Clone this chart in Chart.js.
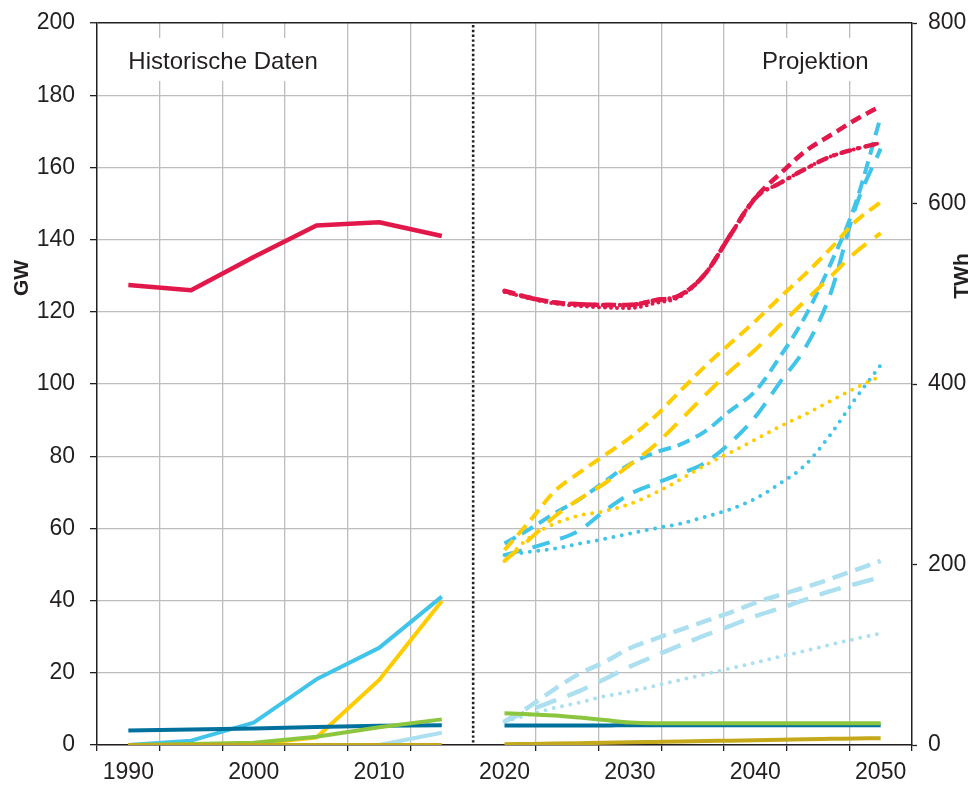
<!DOCTYPE html>
<html>
<head>
<meta charset="utf-8">
<script src="https://cdn.jsdelivr.net/npm/chart.js@4"></script>
<style>
  html, body { margin: 0; padding: 0; background: #fff; }
  #chart { display: block; }
</style>
</head>
<body>
<canvas id="chart" width="976" height="785"></canvas>
<script>
// Data (GW)
const histYears = [1990, 1995, 2000, 2005, 2010, 2015];
const projYears = [2020, 2022, 2024, 2026, 2028, 2030, 2032, 2034, 2036, 2038, 2040, 2042, 2044, 2046, 2048, 2050];

const histRed = [127.4, 126.0, 135.2, 143.9, 144.8, 141.0];
const histCyan = [0, 1.2, 6.2, 18.2, 26.9, 41.1];
const histYellow = [0, 0, 0.3, 2.1, 18.0, 39.9];
const histDarkBlue = [4.0, 4.3, 4.6, 5.0, 5.3, 5.5];
const histGreen = [0, 0.3, 0.6, 2.3, 4.9, 7.1];
const histLightBlue = [0, 0, 0, 0, 0, 3.4];
const histOlive = [0, 0, 0, 0, 0, 0];

const redDash = [125.8, 123.9, 122.6, 122.1, 121.9, 121.9, 123.2, 124.6, 130.5, 141.2, 151.5, 158.3, 164.5, 168.9, 173.2, 177.0];
const redDashDot = [125.8, 123.9, 122.6, 122.1, 121.9, 121.9, 123.2, 124.6, 130.5, 141.2, 151.5, 155.7, 159.6, 163.0, 165.1, 166.8];
const redDot = [125.5, 123.7, 122.3, 121.6, 121.2, 121.0, 122.4, 124.2, 130.5, 141.2, 151.5, 155.7, 159.6, 163.0, 165.1, 166.8];

const yellowDash = [54.0, 62.0, 70.3, 75.5, 80.3, 85.1, 91.0, 98.0, 104.9, 111.2, 117.4, 124.1, 130.5, 137.5, 145.0, 150.4];
const yellowLongDash = [51.0, 57.0, 63.3, 68.2, 72.5, 77.6, 83.1, 89.9, 96.9, 103.6, 109.5, 116.4, 123.1, 129.7, 136.5, 141.8];
const yellowDot = [51.0, 57.5, 61.3, 63.6, 64.8, 66.8, 69.8, 73.5, 77.5, 81.0, 84.6, 88.3, 91.6, 95.3, 98.9, 102.2];

const cyanDash = [55.8, 59.8, 64.2, 68.1, 73.0, 77.8, 81.0, 83.2, 86.9, 92.6, 98.0, 107.7, 118.8, 133.2, 150.0, 174.0];
const cyanLongDash = [52.6, 54.5, 56.6, 59.5, 64.9, 69.5, 72.4, 75.1, 78.2, 83.7, 90.9, 100.6, 110.1, 125.0, 149.0, 165.2];
const cyanDot = [52.6, 53.5, 54.4, 55.8, 57.1, 58.6, 60.0, 61.3, 63.2, 65.3, 68.2, 72.5, 77.6, 86.0, 96.0, 105.2];

const lightDash = [6.5, 10.7, 15.5, 19.8, 23.0, 26.8, 29.4, 31.9, 34.3, 36.7, 39.4, 41.6, 43.7, 46.0, 48.5, 51.0];
const lightLongDash = [6.5, 9.6, 12.3, 15.0, 18.3, 21.7, 24.7, 27.6, 30.4, 33.0, 35.7, 37.9, 40.3, 42.6, 44.6, 46.5];
const lightDot = [6.5, 8.4, 10.3, 11.8, 13.5, 14.8, 16.4, 18.0, 19.6, 21.2, 22.8, 24.5, 26.1, 27.8, 29.4, 30.9];

const projGreen = [8.8, 8.5, 8.2, 7.6, 6.9, 6.2, 6.0, 6.0, 6.0, 6.0, 6.0, 6.0, 6.0, 6.0, 6.0, 6.0];
const projDarkBlue = [5.4, 5.4, 5.4, 5.4, 5.4, 5.5, 5.5, 5.5, 5.5, 5.5, 5.5, 5.5, 5.5, 5.5, 5.5, 5.5];
const projOlive = [0.2, 0.3, 0.4, 0.5, 0.6, 0.75, 0.85, 0.95, 1.1, 1.2, 1.35, 1.45, 1.6, 1.7, 1.8, 1.9];

// Axis ticks
const xLabelYears = [1990, 2000, 2010, 2020, 2030, 2040, 2050];
const xGridYears = [1987.5, 1992.5, 1997.5, 2002.5, 2007.5, 2012.5, 2017.5, 2022.5, 2027.5, 2032.5, 2037.5, 2042.5, 2047.5, 2052.5];
const splitYear = 2017.5;
const gwTicks = [0, 20, 40, 60, 80, 100, 120, 140, 160, 180, 200];
const twhTicks = [0, 200, 400, 600, 800];

// Colours
const RED = '#e2184b';
const CYAN = '#41c4e9';
const YELLOW = '#ffcc00';
const DARKBLUE = '#00719c';
const GREEN = '#8cc63f';
const LIGHTBLUE = '#acdff0';
const OLIVE = '#c5a91c';
const TEXT = '#231f20';
const GRID = '#bdbdbd';
const FONT = "'Liberation Sans', Arial, Helvetica, sans-serif";

const DASH = [13, 7];
const LONG = [18, 11];
const DOT = [0, 8.5];

const pts = (years, vals) => years.map((x, i) => ({ x, y: vals[i] }));

function series(label, years, vals, color, opts = {}) {
    return Object.assign({
        label,
        data: pts(years, vals),
        borderColor: color,
        backgroundColor: color,
        borderWidth: 4,
        pointRadius: 0,
        fill: false,
        tension: 0,
        borderCapStyle: 'butt',
        borderJoinStyle: 'round',
        yAxisID: 'y'
    }, opts);
}

const smooth = { cubicInterpolationMode: 'monotone' };
const dotted = { borderDash: DOT, borderCapStyle: 'round', cubicInterpolationMode: 'monotone' };

const datasets = [
    series('Olive hist', histYears, histOlive, OLIVE),
    series('Olive proj', projYears, projOlive, OLIVE, smooth),
    series('Green hist', histYears, histGreen, GREEN),
    series('Green proj', projYears, projGreen, GREEN, smooth),
    series('Darkblue hist', histYears, histDarkBlue, DARKBLUE),
    series('Darkblue proj', projYears, projDarkBlue, DARKBLUE, smooth),
    series('Light hist', histYears, histLightBlue, LIGHTBLUE),
    series('Cyan hist', histYears, histCyan, CYAN),
    series('Yellow hist', histYears, histYellow, YELLOW),
    series('Red hist', histYears, histRed, RED, { borderWidth: 4.5 }),
    series('Red dash', projYears, redDash, RED, { borderWidth: 4.5, borderDash: [11, 6], ...smooth }),
    series('Red dashdot', projYears, redDashDot, RED, { borderWidth: 4.5, borderDash: [9, 8, 0, 8], borderCapStyle: 'round', ...smooth }),
    series('Red dot', projYears, redDot, RED, { borderWidth: 4, borderDash: [0, 6], borderCapStyle: 'round', ...smooth }),
    series('Yellow dash', projYears, yellowDash, YELLOW, { borderDash: DASH, ...smooth }),
    series('Yellow longdash', projYears, yellowLongDash, YELLOW, { borderDash: LONG, ...smooth }),
    series('Yellow dot', projYears, yellowDot, YELLOW, dotted),
    series('Cyan dash', projYears, cyanDash, CYAN, { borderDash: DASH, ...smooth }),
    series('Cyan longdash', projYears, cyanLongDash, CYAN, { borderDash: LONG, ...smooth }),
    series('Cyan dot', projYears, cyanDot, CYAN, dotted),
    series('Light dash', projYears, lightDash, LIGHTBLUE, { borderWidth: 4.5, borderDash: [16, 8], ...smooth }),
    series('Light longdash', projYears, lightLongDash, LIGHTBLUE, { borderWidth: 4.5, borderDash: [22, 12], ...smooth }),
    series('Light dot', projYears, lightDot, LIGHTBLUE, dotted)
];

// Labels, white boxes, split line and axis titles
const overlay = {
    id: 'overlay',
    beforeDatasetsDraw(chart) {
        const { ctx, chartArea, scales } = chart;
        const xs = scales.x;
        ctx.save();
        ctx.font = `24px ${FONT}`;
        ctx.textBaseline = 'alphabetic';

        // Historische Daten
        const hx = xs.getPixelForValue(1990);
        const hw = ctx.measureText('Historische Daten').width;
        ctx.fillStyle = '#fff';
        ctx.fillRect(hx - 14, chartArea.top + 15, hw + 28, 43);
        ctx.fillStyle = TEXT;
        ctx.textAlign = 'left';
        ctx.fillText('Historische Daten', hx, chartArea.top + 46);

        // Projektion
        const px = xs.getPixelForValue(2050) - 12;
        const pw = ctx.measureText('Projektion').width;
        ctx.fillStyle = '#fff';
        ctx.fillRect(px - pw - 14, chartArea.top + 15, pw + 28, 43);
        ctx.fillStyle = TEXT;
        ctx.textAlign = 'right';
        ctx.fillText('Projektion', px, chartArea.top + 46);

        // dotted split line
        const sx = xs.getPixelForValue(splitYear);
        ctx.strokeStyle = '#222';
        ctx.lineWidth = 2.6;
        ctx.setLineDash([2.4, 2.4]);
        ctx.beginPath();
        ctx.moveTo(sx, chartArea.top + 2);
        ctx.lineTo(sx, chartArea.bottom);
        ctx.stroke();
        ctx.restore();
    },
    afterDraw(chart) {
        const { ctx } = chart;
        ctx.save();
        ctx.font = `bold 21px ${FONT}`;
        ctx.fillStyle = TEXT;
        ctx.textAlign = 'center';
        ctx.textBaseline = 'middle';
        ctx.translate(22, 278);
        ctx.rotate(-Math.PI / 2);
        ctx.fillText('GW', 0, 0);
        ctx.restore();

        ctx.save();
        ctx.font = `bold 21px ${FONT}`;
        ctx.fillStyle = TEXT;
        ctx.textAlign = 'center';
        ctx.textBaseline = 'middle';
        ctx.translate(962, 276);
        ctx.rotate(-Math.PI / 2);
        ctx.fillText('TWh', 0, 0);
        ctx.restore();
    }
};

const isLabelYear = v => xLabelYears.includes(v);
const isInnerGrid = v => xGridYears.includes(v) && v !== splitYear && v !== xGridYears[0] && v !== xGridYears[xGridYears.length - 1];

new Chart(document.getElementById('chart'), {
    type: 'line',
    data: { datasets },
    plugins: [overlay],
    options: {
        responsive: false,
        devicePixelRatio: 1,
        animation: false,
        layout: { padding: { top: 23, left: 0, right: 0, bottom: 0 } },
        plugins: { legend: { display: false }, tooltip: { enabled: false } },
        scales: {
            x: {
                type: 'linear',
                position: 'bottom',
                min: xGridYears[0],
                max: xGridYears[xGridYears.length - 1],
                afterBuildTicks: s => {
                    s.ticks = [...xGridYears, ...xLabelYears].sort((a, b) => a - b).map(v => ({ value: v }));
                },
                afterFit: s => { s.height = 40; },
                grid: {
                    color: c => (c.tick && isInnerGrid(c.tick.value)) ? GRID : 'rgba(0,0,0,0)',
                    lineWidth: 1.3,
                    drawTicks: true,
                    tickLength: 6,
                    tickWidth: 1.3,
                    tickColor: c => (c.tick && xGridYears.includes(c.tick.value) && c.tick.value !== splitYear) ? TEXT : 'rgba(0,0,0,0)'
                },
                border: { display: true, color: TEXT, width: 1.5 },
                ticks: {
                    autoSkip: false,
                    maxRotation: 0,
                    padding: 8,
                    color: TEXT,
                    font: { family: FONT, size: 23 },
                    callback: v => isLabelYear(v) ? String(v) : ''
                }
            },
            y: {
                type: 'linear',
                position: 'left',
                min: 0,
                max: 200,
                afterBuildTicks: s => { s.ticks = gwTicks.map(v => ({ value: v })); },
                afterFit: s => { s.width = 97; s.paddingTop = 10; s.paddingBottom = 10; },
                grid: {
                    color: c => (c.tick && c.tick.value === 200) ? TEXT : GRID,
                    lineWidth: c => (c.tick && c.tick.value === 200) ? 1.5 : 1.3,
                    drawTicks: true,
                    tickLength: 7,
                    tickColor: TEXT,
                    tickWidth: 1.3
                },
                border: { display: true, color: TEXT, width: 1.5 },
                ticks: {
                    padding: 15,
                    color: TEXT,
                    font: { family: FONT, size: 23 }
                }
            },
            y2: {
                type: 'linear',
                position: 'right',
                min: 0,
                max: 800,
                afterBuildTicks: s => { s.ticks = twhTicks.map(v => ({ value: v })); },
                afterFit: s => { s.width = 64; s.paddingTop = 10; s.paddingBottom = 10; },
                grid: {
                    drawOnChartArea: false,
                    drawTicks: true,
                    tickLength: 5,
                    tickColor: TEXT,
                    tickWidth: 1.3
                },
                border: { display: true, color: TEXT, width: 1.5 },
                ticks: {
                    padding: 11,
                    color: TEXT,
                    font: { family: FONT, size: 23 }
                }
            }
        }
    }
});
</script>
</body>
</html>
